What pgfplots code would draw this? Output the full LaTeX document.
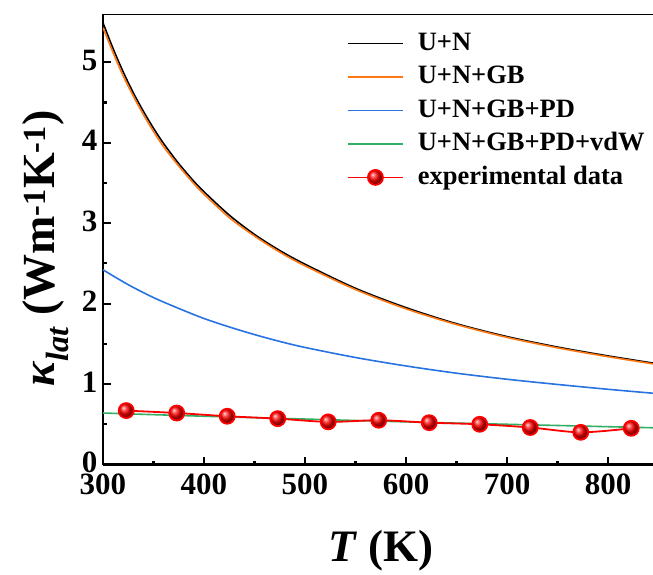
\documentclass[border=0pt]{standalone}
\usepackage{fontspec}
\setmainfont{Liberation Serif}
\usepackage{pgfplots}
\pgfplotsset{compat=1.18}
\definecolor{cblack}{RGB}{0,0,0}
\definecolor{corange}{RGB}{255,120,20}
\definecolor{cblue}{RGB}{40,115,225}
\definecolor{cgreen}{RGB}{50,175,100}
\definecolor{cred}{RGB}{255,0,0}
\pgfplotsset{redlegend/.style={legend image code/.code={\draw[cred, line width=1.8pt] (0pt,0pt) -- (55pt,0pt);
    \draw[mark repeat=2,mark phase=2,##1, draw=none] plot coordinates {(0pt,0pt)(27.5pt,0pt)(55pt,0pt)};}}}
\begin{document}
\begin{tikzpicture}
\path[use as bounding box] (-103pt,-109.5pt) rectangle (550pt,464.5pt);
\begin{axis}[
  at={(0,0)}, anchor=south west,
  scale only axis, width=555.5pt, height=450.5pt,
  xmin=300, xmax=850, ymin=0, ymax=5.6,
  axis x line*=bottom, axis y line*=left,
  axis line style={line width=2.5pt,-},
  xtick={300,400,...,800}, minor x tick num=1,
  ytick={0,1,...,5}, minor y tick num=1,
  tick align=inside, major tick length=8pt, minor tick length=4pt,
  every tick/.style={black, line width=2.2pt},
  /pgf/number format/assume math mode=true,
  ticklabel style={font=\fontsize{31}{31}\selectfont\bfseries},
  xticklabel style={yshift=-6pt},
  yticklabel style={xshift=-2pt, yshift=2pt},
  every axis x label/.style={at={([yshift=-97pt]axis description cs:0.5,0)}, anchor=base},
  every axis y label/.style={at={([xshift=-48pt]axis description cs:0,0.48)}, anchor=base, rotate=90},
  xlabel style={font=\fontsize{45}{45}\selectfont\bfseries},
  ylabel style={font=\fontsize{46}{46}\selectfont\bfseries},
  xlabel={\textit{T} (K)},
  ylabel={\textit{κ\textsubscript{lat}} (Wm\textsuperscript{-1}K\textsuperscript{-1})},
  legend style={at={(rel axis cs:0.439,0.969)}, anchor=north west, draw=none, fill=none,
    font=\fontsize{26.5}{26.5}\selectfont\bfseries, row sep=3pt, inner sep=0pt,
    nodes={text height=20pt, text depth=6.5pt},
    /tikz/every odd column/.append style={column sep=12pt}},
  legend cell align=left,
  legend image code/.code={\draw[mark repeat=2,mark phase=2,#1] plot coordinates {(0pt,0pt)(27.5pt,0pt)(55pt,0pt)};},
]
\addplot[cblack, line width=1.6pt, smooth] coordinates {
(300,5.49)(310,5.17)(320,4.88)(330,4.62)(340,4.39)(350,4.18)(360,3.99)(375,3.74)(390,3.52)(400,3.39)(425,3.10)(450,2.86)(475,2.66)(500,2.49)(550,2.19)(600,1.95)(650,1.75)(700,1.59)(750,1.46)(800,1.35)(850,1.25)};
\addlegendentry{U+N}
\addplot[corange, line width=1.6pt, smooth] coordinates {
(300,5.43)(310,5.12)(320,4.83)(330,4.58)(340,4.35)(350,4.14)(360,3.95)(375,3.71)(390,3.49)(400,3.36)(425,3.07)(450,2.84)(475,2.64)(500,2.47)(550,2.175)(600,1.935)(650,1.74)(700,1.58)(750,1.45)(800,1.34)(850,1.24)};
\addlegendentry{U+N+GB}
\addplot[cblue, line width=1.6pt, smooth] coordinates {
(300,2.42)(325,2.235)(350,2.075)(375,1.94)(400,1.815)(425,1.71)(450,1.615)(475,1.53)(500,1.455)(550,1.33)(600,1.225)(650,1.135)(700,1.06)(750,0.995)(800,0.935)(850,0.88)};
\addlegendentry{U+N+GB+PD}
\addplot[cgreen, line width=1.6pt, smooth] coordinates {
(300,0.64)(400,0.60)(500,0.565)(600,0.53)(700,0.50)(800,0.47)(850,0.455)};
\addlegendentry{U+N+GB+PD+vdW}
\addplot[color=cred, draw=cred, line width=1.8pt, smooth, mark=ball, mark size=7.5pt, mark options={ball color=cred}, redlegend] coordinates {
(323,0.67)(373,0.64)(423,0.60)(473,0.57)(523,0.53)(573,0.55)(623,0.52)(673,0.50)(723,0.46)(773,0.40)(823,0.45)};
\addlegendentry{experimental data}
\draw[line width=2.5pt] (rel axis cs:0,1) -- (rel axis cs:1,1);
\end{axis}
\end{tikzpicture}
\end{document}
